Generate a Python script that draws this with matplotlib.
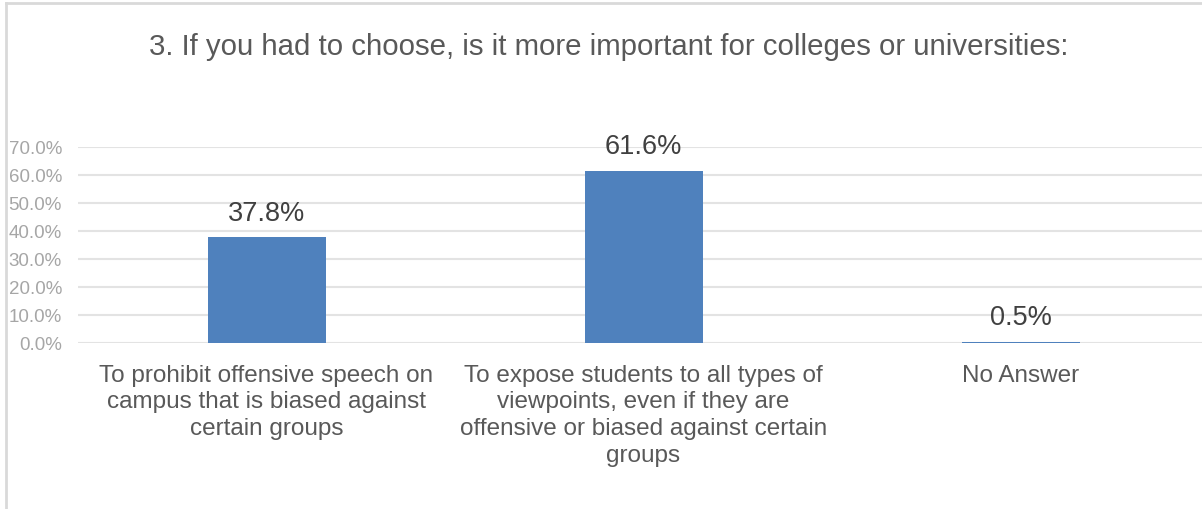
import matplotlib
matplotlib.use("Agg")
import matplotlib.pyplot as plt
from matplotlib.lines import Line2D
from matplotlib.ticker import FuncFormatter
import numpy as np

plt.rcParams['font.family'] = ['Liberation Sans', 'DejaVu Sans']

title = "3. If you had to choose, is it more important for colleges or universities:"
categories = [
    "To prohibit offensive speech on\ncampus that is biased against\ncertain groups",
    "To expose students to all types of\nviewpoints, even if they are\noffensive or biased against certain\ngroups",
    "No Answer",
]
shares = [0.378, 0.616, 0.005]
y_ticks = [0.0, 0.1, 0.2, 0.3, 0.4, 0.5, 0.6, 0.7]

bar_color = "#4f81bd"
text_color = "#595959"
tick_color = "#a6a6a6"
grid_color = "#e3e3e3"

W, H = 1202, 510
fig = plt.figure(figsize=(W / 100, H / 100), dpi=100)

# axes placed in pixel terms (left 78, bottom y=344, top y=148); extends past right edge
left, right = 78, 1202
ax = fig.add_axes([left / W, (H - 344) / H, (right - left) / W, (344 - 148) / H])

x = np.arange(len(categories))
slot = 377.0
ax.set_xlim(-0.5, -0.5 + (right - left) / slot)
ax.set_ylim(0, 0.7)

bars = ax.bar(x, shares, width=118 / slot, color=bar_color, zorder=3)
ax.bar_label(bars, labels=[f"{v * 100:.1f}%" for v in shares],
             padding=8, fontsize=19.5, color="#404040")

ax.set_yticks(y_ticks)
ax.yaxis.set_major_formatter(FuncFormatter(lambda v, _: f"{v * 100:.1f}%"))
ax.tick_params(axis='y', length=0, pad=11.5, labelsize=13.5, labelcolor=tick_color)
ax.set_xticks(x, categories)
ax.tick_params(axis='x', length=0, pad=15, labelsize=17.5, labelcolor=text_color)
for lab in ax.get_xticklabels():
    lab.set_linespacing(1.27)
    lab.set_verticalalignment('top')

ax.grid(axis='y', color=grid_color, linewidth=1.5, zorder=0)
for s in ax.spines.values():
    s.set_visible(False)

fig.text(609 / W, 1 - 47 / H, title, ha='center', va='center',
         fontsize=21.2, color=text_color)

# outer chart frame (left and top edges visible in the screenshot)
fig.add_artist(Line2D([6 / W, 6 / W], [0, 1 - 4 / H], color="#d9d9d9", linewidth=2,
                      transform=fig.transFigure))
fig.add_artist(Line2D([6 / W, 1], [1 - 4 / H, 1 - 4 / H], color="#d9d9d9", linewidth=2,
                      transform=fig.transFigure))

fig.savefig("out.png", dpi=100)
